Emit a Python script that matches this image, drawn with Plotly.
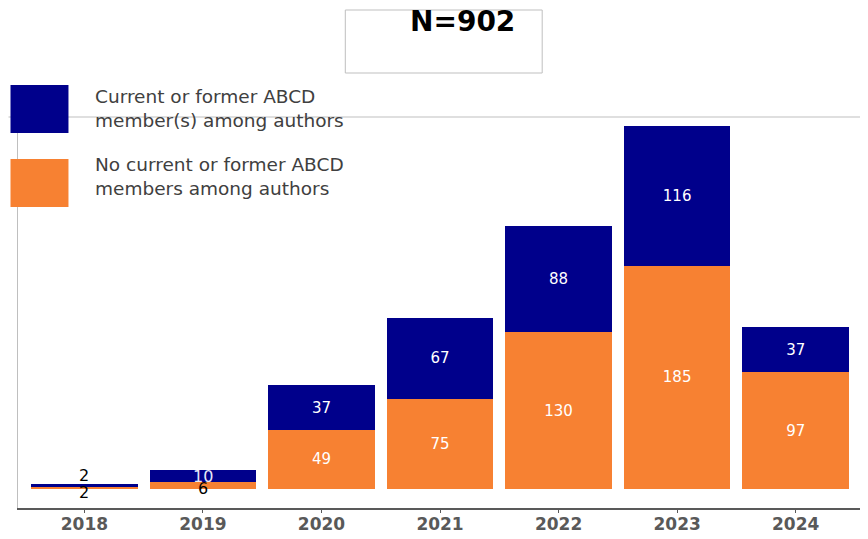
import plotly.graph_objects as go

years = ["2018", "2019", "2020", "2021", "2022", "2023", "2024"]
abcd_members = [2, 10, 37, 67, 88, 116, 37]
no_abcd_members = [2, 6, 49, 75, 130, 185, 97]
series_names = ["Current or former ABCD<br>member(s) among authors",
                "No current or former ABCD<br>members among authors"]
title_text = "N=902"

NAVY = "#00008B"
ORANGE = "#F78132"
FONT = "DejaVu Sans"
MIN_INSIDE = 20

# page body adds an 8px offset; figure covers the visible area
OFF = 8
W, H = 868 - OFF, 539 - OFF
L, R, T, B = 17.5 - OFF, 0, 117 - OFF, 539 - 508
PW, PH = W - L - R, H - T - B


def px_x(p):
    return (p - OFF - L) / PW


def px_y(p):
    return 1 - (p - OFF - T) / PH


fig = go.Figure()
fig.add_trace(go.Bar(
    x=years, y=no_abcd_members, name=series_names[1], marker=dict(color=ORANGE, line=dict(width=0)),
    text=[str(v) if v >= MIN_INSIDE else "" for v in no_abcd_members],
    textposition="inside", insidetextanchor="middle",
    textfont=dict(family=FONT, size=15, color="white"),
    showlegend=False,
))
fig.add_trace(go.Bar(
    x=years, y=abcd_members, name=series_names[0], marker=dict(color=NAVY, line=dict(width=0)),
    text=[str(v) if v >= MIN_INSIDE else "" for v in abcd_members],
    textposition="inside", insidetextanchor="middle",
    textfont=dict(family=FONT, size=15, color="white"),
    showlegend=False,
))

annotations = []
# small-value labels (x given as category index)
for i, (a, b) in enumerate(zip(abcd_members, no_abcd_members)):
    if a >= MIN_INSIDE and b >= MIN_INSIDE:
        continue
    if a + b < 8:
        annotations.append(dict(x=i, y=a + b, text=str(a), showarrow=False, yanchor="middle",
                                yshift=9, font=dict(family=FONT, size=16, color="black")))
        annotations.append(dict(x=i, y=0, text=str(b), showarrow=False, yanchor="middle",
                                yshift=-3, font=dict(family=FONT, size=16, color="black")))
    else:
        annotations.append(dict(x=i, y=b + a / 2, text=str(a), showarrow=False, yanchor="middle",
                                yshift=-1, font=dict(family=FONT, size=16, color="#E8E8F8")))
        annotations.append(dict(x=i, y=b / 2, text=str(b), showarrow=False, yanchor="middle",
                                yshift=-3, font=dict(family=FONT, size=16, color="black")))

# title
annotations.append(dict(xref="paper", yref="paper", x=px_x(462), y=px_y(21),
                        text="<b>" + title_text + "</b>", showarrow=False, xanchor="center", yanchor="middle",
                        borderpad=0, font=dict(family=FONT, size=28, color="black")))
# legend texts
for name, yc in zip(series_names, [108.5, 176]):
    annotations.append(dict(xref="paper", yref="paper", x=px_x(93), y=px_y(yc),
                            text=name, showarrow=False, xanchor="left", yanchor="middle", align="left",
                            font=dict(family=FONT, size=18.5, color="#404040")))

shapes = [
    # top frame line
    dict(type="line", xref="paper", yref="paper", x0=px_x(8), x1=1, y0=1, y1=1,
         line=dict(color="#BFBFBF", width=1), layer="below"),
    # title box
    dict(type="rect", xref="paper", yref="paper", x0=px_x(345), x1=px_x(542), y0=px_y(10), y1=px_y(73),
         line=dict(color="#BFBFBF", width=1), fillcolor="rgba(0,0,0,0)"),
    # legend swatches
    dict(type="rect", xref="paper", yref="paper", x0=px_x(10), x1=px_x(68), y0=px_y(85), y1=px_y(133),
         line=dict(width=0), fillcolor=NAVY),
    dict(type="rect", xref="paper", yref="paper", x0=px_x(10), x1=px_x(68), y0=px_y(159), y1=px_y(207),
         line=dict(width=0), fillcolor=ORANGE),
]

fig.update_layout(
    barmode="stack",
    bargap=0.1,
    width=W, height=H,
    margin=dict(l=L, r=R, t=T, b=B, pad=0),
    paper_bgcolor="white", plot_bgcolor="white",
    font=dict(family=FONT),
    annotations=annotations,
    shapes=shapes,
    xaxis=dict(type="category", range=[-0.56, 6.61], showline=True, linecolor="#595959", linewidth=2,
               ticks="outside", ticklen=3, tickcolor="#595959", showgrid=False, ticklabelstandoff=-3,
               tickfont=dict(family=FONT, size=17, color="#595959", weight="bold")),
    yaxis=dict(range=[-15.75, 308.5], showline=True, linecolor="#BFBFBF", linewidth=1,
               showticklabels=False, showgrid=False, zeroline=False, ticks=""),
)

fig.write_html("out.html")
